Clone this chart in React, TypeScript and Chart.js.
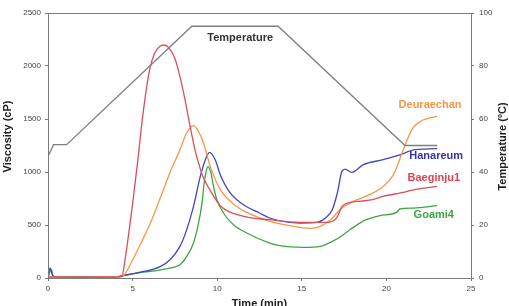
import React, { useEffect, useRef } from "react";
import { Chart, registerables } from "chart.js";

Chart.register(...registerables);

// Pasting curves: time (min) against viscosity (cP)
const baeginjuTime = [0, 0.3, 2, 4.0, 4.37, 4.55, 4.78, 5.0, 5.3, 5.6, 6.0, 6.3, 6.6, 6.85, 7.2, 7.5, 7.8, 8.1, 8.4, 8.7, 9.0, 9.2, 9.5, 10.2, 11.4, 13.1, 14.9, 16.5, 17.07, 17.4, 17.95, 18.5, 19.2, 19.8, 21.2, 21.4, 23.0];
const baeginjuVisc = [8, 10, 8, 8, 15, 170, 430, 700, 1100, 1530, 1960, 2120, 2185, 2198, 2160, 2070, 1900, 1680, 1430, 1200, 1030, 940, 850, 680, 588, 550, 525, 525, 570, 680, 715, 725, 740, 770, 815, 825, 864];

const deuraechanTime = [0, 2, 4.2, 4.45, 5.0, 5.5, 6.0, 6.6, 7.2, 7.8, 8.2, 8.6, 8.9, 9.19, 9.59, 10.18, 11.16, 12.0, 13.1, 13.9, 15.1, 15.5, 16.1, 16.7, 17.37, 18.05, 19.0, 19.8, 20.4, 21.0, 21.5, 22.0, 23.0];
const deuraechanVisc = [8, 8, 10, 20, 170, 330, 500, 740, 990, 1210, 1370, 1437, 1380, 1274, 1053, 833, 675, 600, 534, 505, 472, 468, 487, 550, 660, 723, 786, 864, 970, 1210, 1400, 1477, 1525];

const hanareumTime = [0, 0.12, 0.2, 0.3, 0.5, 4.0, 4.5, 5.45, 6.6, 7.2, 7.8, 8.2, 8.6, 9.0, 9.3, 9.55, 9.88, 10.18, 10.77, 11.55, 12.5, 13.1, 14.9, 15.9, 16.4, 16.8, 17.1, 17.37, 17.56, 17.95, 18.64, 19.8, 21.0, 21.5, 23.0];
const hanareumVisc = [5, 95, 60, 15, 8, 10, 25, 55, 105, 170, 298, 456, 675, 958, 1116, 1185, 1116, 975, 802, 691, 613, 566, 519, 525, 566, 644, 802, 1006, 1028, 996, 1069, 1116, 1173, 1205, 1220];

const goamiTime = [0, 0.2, 0.28, 0.4, 4.0, 4.5, 5.45, 7.2, 7.8, 8.2, 8.6, 8.9, 9.1, 9.23, 9.35, 9.45, 9.63, 9.78, 9.98, 10.37, 10.96, 11.75, 13.1, 13.7, 15.1, 16.1, 16.8, 17.3, 17.85, 18.8, 19.6, 20.6, 20.8, 21.6, 23.0];
const goamiVisc = [5, 80, 30, 10, 10, 25, 50, 94, 125, 204, 330, 519, 707, 896, 1006, 1053, 991, 864, 739, 613, 503, 425, 330, 305, 289, 298, 345, 392, 456, 550, 588, 619, 651, 660, 682];

// Heating/cooling profile: time (min) against temperature (ºC)
const tempTime = [0, 0.1, 0.33, 1.1, 8.5, 13.6, 21.1, 23.0];
const tempValue = [46, 47.2, 50.3, 50.3, 95, 95, 50, 50];

// Axis ranges and tick steps
const timeTicks = { min: 0, max: 25, step: 5 };
const viscTicks = { min: 0, max: 2500, step: 500 };
const tempTicks = { min: 0, max: 100, step: 20 };

// In-chart labels, anchored in data units (time, value on the named axis)
const seriesLabels = [
  { text: "Temperature", t: 11.36, v: 90.7, axis: "y2", color: "#333333" },
  { text: "Deuraechan", t: 22.58, v: 1635, axis: "y", color: "#f79646" },
  { text: "Hanareum", t: 22.94, v: 1154, axis: "y", color: "#3535a8" },
  { text: "Baeginju1", t: 22.8, v: 943, axis: "y", color: "#e04452" },
  { text: "Goami4", t: 22.8, v: 597, axis: "y", color: "#3da543" },
];

const FONT = "'Liberation Sans', Arial, sans-serif";
const AXIS_COLOR = "#7a7a7a";

const zip = (xs: number[], ys: number[]) => xs.map((x, i) => ({ x, y: ys[i] }));

const decorations = {
  id: "decorations",
  afterDatasetsDraw(chart: any) {
    const { ctx, chartArea, scales } = chart;
    ctx.save();
    // frame around the plot
    ctx.strokeStyle = AXIS_COLOR;
    ctx.lineWidth = 1;
    ctx.strokeRect(
      Math.round(chartArea.left) + 0.5,
      Math.round(chartArea.top) + 0.5,
      Math.round(chartArea.right - chartArea.left),
      Math.round(chartArea.bottom - chartArea.top)
    );

    ctx.font = `bold 11px ${FONT}`;
    ctx.textAlign = "center";
    ctx.textBaseline = "middle";
    for (const l of seriesLabels) {
      ctx.fillStyle = l.color;
      ctx.fillText(l.text, scales.x.getPixelForValue(l.t), scales[l.axis].getPixelForValue(l.v));
    }

    // axis titles
    ctx.fillStyle = "#222";
    const midY = (chartArea.top + chartArea.bottom) / 2;
    ctx.save();
    ctx.translate(8, midY - 9);
    ctx.rotate(-Math.PI / 2);
    ctx.fillText("Viscosity (cP)", 0, 0);
    ctx.restore();

    ctx.save();
    ctx.translate(chart.width - 6, midY + 1);
    ctx.rotate(-Math.PI / 2);
    ctx.fillText("Temperature (ºC)", 0, 0);
    ctx.restore();

    ctx.fillText("Time (min)", (chartArea.left + chartArea.right) / 2, chart.height - 2);
    ctx.restore();
  },
};

export default function App() {
  const canvasRef = useRef<HTMLCanvasElement>(null);

  useEffect(() => {
    if (!canvasRef.current) return;
    const line = (label: string, xs: number[], ys: number[], color: string, axis = "y") => ({
      label,
      data: zip(xs, ys),
      borderColor: color,
      backgroundColor: color,
      borderWidth: 1.3,
      pointRadius: 0,
      fill: false,
      cubicInterpolationMode: "monotone" as const,
      yAxisID: axis,
    });

    const tickFont = { size: 8, family: FONT };
    const plain = (v: any) => String(v);
    const chart = new Chart(canvasRef.current, {
      type: "line",
      data: {
        datasets: [
          { ...line("Temperature", tempTime, tempValue, "#7f7f7f", "y2"), cubicInterpolationMode: "default" as const, tension: 0 },
          line("Baeginju1", baeginjuTime, baeginjuVisc, "#d9505a"),
          line("Deuraechan", deuraechanTime, deuraechanVisc, "#f79646"),
          line("Hanareum", hanareumTime, hanareumVisc, "#4545b8"),
          line("Goami4", goamiTime, goamiVisc, "#3da543"),
        ],
      },
      options: {
        animation: false,
        responsive: true,
        maintainAspectRatio: false,
        devicePixelRatio: 1,
        layout: { padding: { top: 13, left: 0, right: 0, bottom: 0 } },
        plugins: { legend: { display: false }, tooltip: { enabled: false } },
        scales: {
          x: {
            type: "linear",
            min: timeTicks.min,
            max: timeTicks.max,
            ticks: { stepSize: timeTicks.step, color: "#444", font: tickFont, padding: 3, maxRotation: 0, callback: plain },
            grid: { display: true, drawOnChartArea: false, tickLength: 3, color: AXIS_COLOR },
            border: { color: AXIS_COLOR },
            afterFit: (s: any) => { s.height = 28; },
          },
          y: {
            position: "left",
            min: viscTicks.min,
            max: viscTicks.max,
            ticks: { stepSize: viscTicks.step, color: "#444", font: tickFont, padding: 4, callback: plain },
            grid: { display: true, drawOnChartArea: false, tickLength: 3, color: AXIS_COLOR },
            border: { color: AXIS_COLOR },
            afterFit: (s: any) => { s.width = 48; },
          },
          y2: {
            position: "right",
            min: tempTicks.min,
            max: tempTicks.max,
            ticks: { stepSize: tempTicks.step, color: "#444", font: tickFont, padding: 5, callback: plain },
            grid: { display: true, drawOnChartArea: false, tickLength: 3, color: AXIS_COLOR },
            border: { color: AXIS_COLOR },
            afterFit: (s: any) => { s.width = 38; },
          },
        },
      },
      plugins: [decorations],
    });
    return () => chart.destroy();
  }, []);

  return (
    <div style={{ position: "fixed", left: 0, top: 0, width: 509, height: 306, background: "#fff" }}>
      <canvas ref={canvasRef} />
    </div>
  );
}
